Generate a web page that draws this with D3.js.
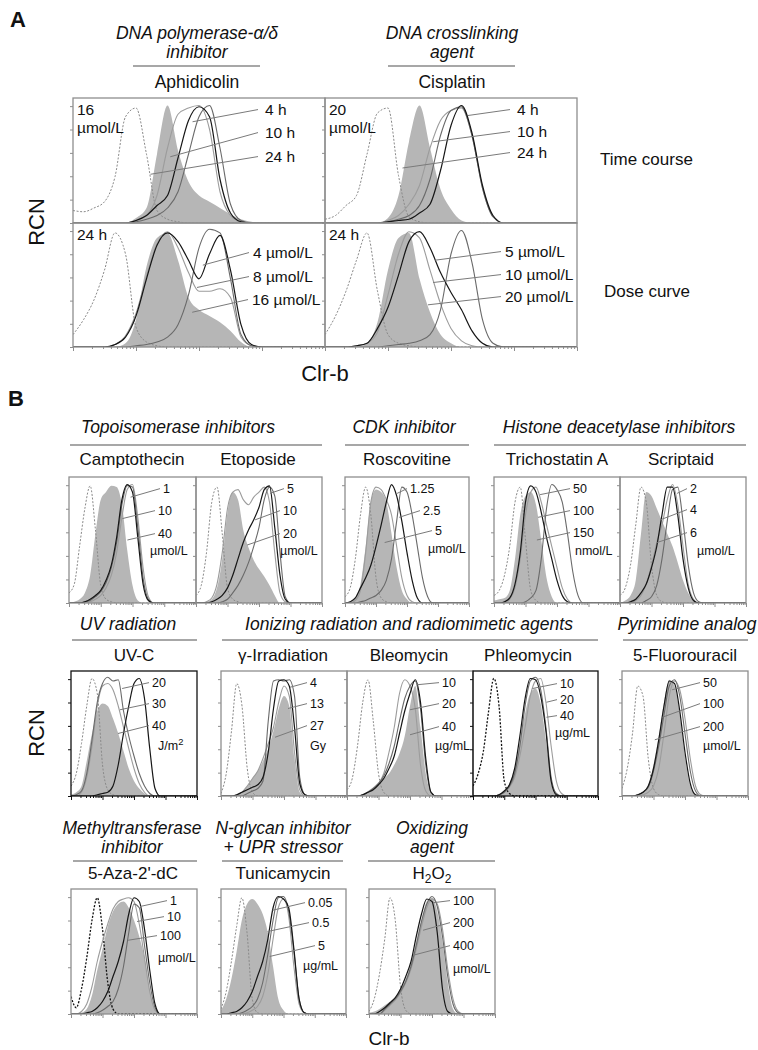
<!DOCTYPE html>
<html><head><meta charset="utf-8">
<script src="https://cdn.jsdelivr.net/npm/d3@7"></script>
<style>
body{margin:0;background:#fff}
svg{display:block;font-family:"Liberation Sans",Arial,Helvetica,sans-serif}
</style>
</head><body>
<svg id="c" width="758" height="1050"></svg>
<script>
// ---------- DATA ----------
// fluorescence bins (log-spaced, 6 per decade, 10^0 .. 10^4)
const fluorBins = [1, 1.468, 2.154, 3.162, 4.642, 6.813, 10, 14.68, 21.54, 31.62, 46.42, 68.13, 100, 146.8, 215.4, 316.2, 464.2, 681.3, 1000, 1468, 2154, 3162, 4642, 6813, 10000];

// Panel A – Aphidicolin time course (16 µmol/L)
const aphTimeIso  = [10,9,12,17,37,85,92,55,10,3,1,0,0,0,0,0,0,0,0,0,0,0,0,0,0];
const aphTimeFill = [0,0,0,0,0,0,4,12,55,94,58,33,22,17,12,7,3,1,0,0,0,0,0,0,0];
const aphTimeLines = [
  [0,0,0,0,0,0,2,6,22,60,87,92,94,75,25,6,1,0,0,0,0,0,0,0,0],
  [0,0,0,0,0,0,1,3,6,12,25,55,85,94,60,15,2,0,0,0,0,0,0,0,0],
  [0,0,0,0,0,0,2,6,14,22,52,82,93,85,35,8,1,0,0,0,0,0,0,0,0]];
const aphTimeLabels = ["4 h", "10 h", "24 h"];
const aphTimeLeaders = [[79,81],[35,53],[17,39]];

// Panel A – Cisplatin time course (20 µmol/L)
const cisTimeIso  = [3,6,14,22,55,88,92,38,5,1,0,0,0,0,0,0,0,0,0,0,0,0,0,0,0];
const cisTimeFill = [0,0,0,0,0,0,4,22,65,94,60,27,11,2,0,0,0,0,0,0,0,0,0,0,0];
const cisTimeLines = [
  [0,0,0,0,0,0,2,6,15,30,60,82,90,92,70,28,5,0,0,0,0,0,0,0,0],
  [0,0,0,0,0,0,1,3,6,14,35,70,90,93,70,28,5,0,0,0,0,0,0,0,0],
  [0,0,0,0,0,0,1,2,3,8,15,42,78,94,72,30,6,0,0,0,0,0,0,0,0]];
const cisTimeLabels = ["4 h", "10 h", "24 h"];
const cisTimeLeaders = [[186,86],[52,65],[17,44]];

// Panel A – Aphidicolin dose curve (24 h)
const aphDoseIso  = [10,22,38,62,92,75,16,4,1,0,0,0,0,0,0,0,0,0,0,0,0,0,0,0,0];
const aphDoseFill = [0,0,0,0,0,3,22,65,88,92,70,40,30,25,20,13,4,0,0,0,0,0,0,0,0];
const aphDoseLines = [
  [0,0,0,0,2,9,27,57,83,93,80,60,45,45,47,40,8,1,0,0,0,0,0,0,0],
  [0,0,0,0,0,0,1,2,4,8,18,42,80,95,92,55,10,1,0,0,0,0,0,0,0],
  [0,0,0,0,2,8,25,55,82,92,85,70,55,75,90,62,18,2,0,0,0,0,0,0,0]];
const aphDoseLabels = ["4 µmol/L", "8 µmol/L", "16 µmol/L"];
const aphDoseLeaders = [[115,66],[93,48],[78,28]];

// Panel A – Cisplatin dose curve (24 h)
const cisDoseIso  = [10,25,45,70,92,45,10,3,1,0,0,0,0,0,0,0,0,0,0,0,0,0,0,0,0];
const cisDoseFill = [0,0,0,0,3,20,62,88,92,55,28,10,3,0,0,0,0,0,0,0,0,0,0,0,0];
const cisDoseLines = [
  [0,0,0,1,3,12,42,75,93,88,62,35,15,5,1,0,0,0,0,0,0,0,0,0,0],
  [0,0,0,0,0,0,1,2,3,5,10,30,75,94,68,22,3,0,0,0,0,0,0,0,0],
  [0,0,0,1,3,15,32,58,85,93,80,60,44,30,13,3,0,0,0,0,0,0,0,0,0]];
const cisDoseLabels = ["5 µmol/L", "10 µmol/L", "20 µmol/L"];
const cisDoseLeaders = [[56,70],[52,52],[43,34]];

// Panel B – Camptothecin
const campIso  = [8,15,45,75,93,58,14,3,1,0,0,0,0,0,0,0,0,0,0,0,0,0,0,0,0];
const campFill = [0,1,3,8,22,55,82,88,93,92,78,42,14,2,0,0,0,0,0,0,0,0,0,0,0];
const campLines = [
  [0,0,0,0,1,3,6,12,22,40,68,90,94,68,28,5,0,0,0,0,0,0,0,0,0],
  [0,0,0,1,2,5,9,16,28,48,78,93,92,60,20,3,0,0,0,0,0,0,0,0,0],
  [0,0,0,1,3,6,10,18,30,52,82,94,88,52,15,2,0,0,0,0,0,0,0,0,0]];
const campLabels = ["1", "10", "40"];
const campLeaders = [[87,84],[48,67],[69,50]];

// Etoposide
const etoIso  = [6,14,40,80,92,55,12,3,1,0,0,0,0,0,0,0,0,0,0,0,0,0,0,0,0];
const etoFill = [0,0,1,3,12,35,72,88,82,58,44,34,27,21,14,6,0,0,0,0,0,0,0,0,0];
const etoLines = [
  [0,0,1,4,15,40,75,88,90,82,78,84,88,92,80,40,8,1,0,0,0,0,0,0,0],
  [0,0,0,0,0,1,3,8,14,22,32,45,60,82,92,85,40,5,0,0,0,0,0,0,0],
  [0,0,0,1,3,6,12,22,35,48,58,66,76,90,93,60,22,3,0,0,0,0,0,0,0]];
const etoLabels = ["5", "10", "20"];
const etoLeaders = [[224,87],[75,66],[42,46]];

// Roscovitine
const roscIso  = [5,12,35,70,92,70,20,4,1,0,0,0,0,0,0,0,0,0,0,0,0,0,0,0,0];
const roscFill = [0,1,4,15,45,80,90,88,80,55,28,10,3,0,0,0,0,0,0,0,0,0,0,0,0];
const roscLines = [
  [0,0,2,10,40,80,92,90,82,70,45,20,6,1,0,0,0,0,0,0,0,0,0,0,0],
  [0,0,0,1,2,4,6,10,18,35,65,92,88,70,45,20,5,0,0,0,0,0,0,0,0],
  [0,1,4,12,20,30,45,62,80,94,85,65,40,18,4,0,0,0,0,0,0,0,0,0,0]];
const roscLabels = ["1.25", "2.5", "5"];
const roscLeaders = [[48,87],[56,68],[19,48]];

// Trichostatin A
const tsaIso  = [6,10,22,45,80,92,50,10,2,0,0,0,0,0,0,0,0,0,0,0,0,0,0,0,0];
const tsaFill = [2,3,4,10,35,70,85,88,78,50,20,5,0,0,0,0,0,0,0,0,0,0,0,0,0];
const tsaLines = [
  [0,0,0,3,12,35,70,88,92,80,62,45,28,12,3,0,0,0,0,0,0,0,0,0,0],
  [0,0,0,0,0,0,1,4,10,35,75,94,90,80,55,25,6,0,0,0,0,0,0,0,0],
  [0,0,1,4,15,40,80,93,88,72,52,35,18,6,1,0,0,0,0,0,0,0,0,0,0]];
const tsaLabels = ["50", "100", "150"];
const tsaLeaders = [[29,86],[25,68],[23,50]];

// Scriptaid
const scrIso  = [6,12,30,62,92,80,30,6,1,0,0,0,0,0,0,0,0,0,0,0,0,0,0,0,0];
const scrFill = [0,2,6,18,55,88,85,75,65,55,45,32,18,8,2,0,0,0,0,0,0,0,0,0,0];
const scrLines = [
  [0,0,0,2,6,15,30,48,62,82,94,78,45,15,3,0,0,0,0,0,0,0,0,0,0],
  [0,0,0,0,0,2,5,14,35,65,90,92,65,30,8,1,0,0,0,0,0,0,0,0,0],
  [0,0,1,3,8,15,28,45,70,92,92,70,35,12,2,0,0,0,0,0,0,0,0,0,0]];
const scrLabels = ["2", "4", "6"];
const scrLeaders = [[65,87],[19,66],[15,48]];

// UV-C
const uvIso  = [8,18,42,72,94,82,25,5,1,0,0,0,0,0,0,0,0,0,0,0,0,0,0,0,0];
const uvFill = [1,3,8,28,50,68,74,72,62,50,36,22,12,6,2,0,0,0,0,0,0,0,0,0,0];
const uvLines = [
  [0,0,3,15,40,72,88,90,85,72,55,38,22,10,3,0,0,0,0,0,0,0,0,0,0],
  [0,1,4,18,45,75,90,95,92,93,68,48,32,18,8,2,0,0,0,0,0,0,0,0,0],
  [0,0,0,0,0,1,2,3,8,25,50,72,90,94,78,38,6,0,0,0,0,0,0,0,0]];
const uvLabels = ["20", "30", "40"];
const uvLeaders = [[42,86],[36,69],[31,50]];

// γ-Irradiation
const gamIso  = [2,18,52,90,72,22,3,0,0,0,0,0,0,0,0,0,0,0,0,0,0,0,0,0,0];
const gamFill = [0,0,0,1,3,8,14,20,28,38,52,70,80,72,30,3,0,0,0,0,0,0,0,0,0];
const gamLines = [
  [0,0,0,1,3,8,14,20,30,42,55,75,88,80,35,5,0,0,0,0,0,0,0,0,0],
  [0,0,0,0,0,2,4,6,12,60,92,93,92,93,80,15,1,0,0,0,0,0,0,0,0],
  [0,0,0,1,3,5,7,9,15,35,70,92,93,88,55,10,1,0,0,0,0,0,0,0,0]];
const gamLabels = ["4", "13", "27"];
const gamLeaders = [[155,87],[134,70],[52,47]];

// Bleomycin
const bleoIso  = [5,14,40,75,93,60,18,3,0,0,0,0,0,0,0,0,0,0,0,0,0,0,0,0,0];
const bleoFill = [0,0,0,1,4,7,11,14,18,25,34,48,72,88,55,18,3,0,0,0,0,0,0,0,0];
const bleoLines = [
  [0,0,0,1,3,6,10,18,35,55,82,93,88,70,25,4,0,0,0,0,0,0,0,0,0],
  [0,0,0,1,3,6,10,16,26,40,60,78,88,92,70,25,3,0,0,0,0,0,0,0,0],
  [0,0,0,1,3,5,9,14,22,32,50,68,82,93,75,30,3,0,0,0,0,0,0,0,0]];
const bleoLabels = ["10", "20", "40"];
const bleoLeaders = [[166,89],[100,69],[100,49]];

// Phleomycin
const phlIso  = [8,18,36,68,94,72,12,2,0,0,0,0,0,0,0,0,0,0,0,0,0,0,0,0,0];
const phlFill = [0,0,0,0,0,1,3,10,22,42,66,82,86,74,45,15,2,0,0,0,0,0,0,0,0];
const phlLines = [
  [0,0,0,0,0,1,3,7,15,32,55,80,92,94,75,40,12,2,0,0,0,0,0,0,0],
  [0,0,0,0,0,1,3,8,18,40,72,92,95,85,55,15,2,0,0,0,0,0,0,0,0],
  [0,0,0,0,0,1,4,9,22,48,78,94,93,80,52,12,1,0,0,0,0,0,0,0,0]];
const phlLabels = ["10", "20", "40"];
const phlLeaders = [[80,86],[224,75],[224,63]];

// 5-Fluorouracil
const fuIso  = [6,22,50,88,80,30,6,1,0,0,0,0,0,0,0,0,0,0,0,0,0,0,0,0,0];
const fuFill = [0,0,0,1,3,8,25,48,75,93,88,65,32,8,1,0,0,0,0,0,0,0,0,0,0];
const fuLines = [
  [0,0,0,0,1,3,8,22,50,80,92,85,62,30,8,1,0,0,0,0,0,0,0,0,0],
  [0,0,0,1,3,7,20,40,65,88,93,80,50,20,4,0,0,0,0,0,0,0,0,0,0],
  [0,0,0,1,3,8,22,45,72,92,90,68,35,10,1,0,0,0,0,0,0,0,0,0,0]];
const fuLabels = ["50", "100", "200"];
const fuLeaders = [[39,85],[19,63],[11,45]];

// 5-Aza-2'-dC
const azaIso  = [14,5,20,45,75,93,68,25,4,0,0,0,0,0,0,0,0,0,0,0,0,0,0,0,0];
const azaFill = [0,0,1,4,15,35,52,70,82,88,90,85,75,62,45,20,3,0,0,0,0,0,0,0,0];
const azaLines = [
  [0,0,2,8,22,42,58,72,84,90,92,93,90,72,45,18,3,0,0,0,0,0,0,0,0],
  [0,0,0,0,0,1,3,6,10,20,38,65,88,85,55,25,5,0,0,0,0,0,0,0,0],
  [0,0,0,1,2,5,10,18,30,42,58,80,93,90,68,35,8,0,0,0,0,0,0,0,0]];
const azaLabels = ["1", "10", "100"];
const azaLeaders = [[155,86],[125,74],[65,59]];

// Tunicamycin
const tunIso  = [4,18,42,70,93,65,12,1,0,0,0,0,0,0,0,0,0,0,0,0,0,0,0,0,0];
const tunFill = [3,12,28,50,75,88,92,88,80,65,38,12,3,0,0,0,0,0,0,0,0,0,0,0,0];
const tunLines = [
  [0,0,0,0,0,1,3,6,14,32,60,85,92,78,38,8,1,0,0,0,0,0,0,0,0],
  [0,0,0,0,1,3,6,12,25,48,75,93,94,82,50,12,1,0,0,0,0,0,0,0,0],
  [0,0,1,2,5,10,18,30,42,60,85,94,92,85,52,12,1,0,0,0,0,0,0,0,0]];
const tunLabels = ["0.05", "0.5", "5"];
const tunLeaders = [[45,83],[31,66],[36,46]];

// H2O2
const h2Iso  = [2,12,32,60,93,75,22,3,0,0,0,0,0,0,0,0,0,0,0,0,0,0,0,0,0];
const h2Fill = [1,2,4,7,10,14,20,28,40,58,75,90,93,82,58,25,4,0,0,0,0,0,0,0,0];
const h2Lines = [
  [0,0,0,3,7,11,17,25,36,52,70,85,92,88,68,36,12,2,0,0,0,0,0,0,0],
  [0,0,0,4,8,12,18,26,38,55,74,88,94,86,62,30,8,1,0,0,0,0,0,0,0],
  [0,0,2,5,9,13,20,30,42,62,80,92,90,65,20,2,0,0,0,0,0,0,0,0,0]];
const h2Labels = ["100", "200", "400"];
const h2Leaders = [[107,89],[52,67],[25,47]];

// axis ticks
const decadeTicks = [1, 10, 100, 1000, 10000];
const minorTicks = [2,3,4,5,6,7,8,9,20,30,40,50,60,70,80,90,200,300,400,500,600,700,800,900,2000,3000,4000,5000,6000,7000,8000,9000];
const countTicks = [0, 18.7, 37.4, 56.1, 74.8, 93.5];

// ---------- STYLE ----------
const BLACK = "#161616", GRAY = "#6a6a6a", LIGHT = "#9c9c9c", FILL = "#b6b6b6";
const ISO = "#8a8a8a", FRAME = "#8e8e8e", HEAD = "#8a8a8a";
const lineCols = [LIGHT, GRAY, BLACK];

const svg = d3.select("#c");
let clipN = 0;

function drawPanel(p) {
  const g = svg.append("g");
  const x = d3.scaleLog().domain([1, 10000]).range([p.x, p.x + p.w]);
  const y = d3.scaleLinear().domain([0, 100]).range([p.y + p.h, p.y]);
  const cid = "clip" + (clipN++);
  g.append("clipPath").attr("id", cid).append("rect")
    .attr("x", p.x).attr("y", p.y - 1).attr("width", p.w).attr("height", p.h + 1);
  const body = g.append("g").attr("clip-path", `url(#${cid})`);
  const area = d3.area().x((d, i) => x(fluorBins[i])).y0(y(0)).y1(d => y(d)).curve(d3.curveMonotoneX);
  const line = d3.line().x((d, i) => x(fluorBins[i])).y(d => y(d)).curve(d3.curveMonotoneX);
  body.append("path").datum(p.fill).attr("d", area).attr("fill", FILL).attr("stroke", "none");
  body.append("path").datum(p.iso).attr("d", line).attr("fill", "none")
    .attr("stroke", p.isoColor || ISO).attr("stroke-width", p.isoColor ? 1.3 : 1)
    .attr("stroke-dasharray", "2,1.6");
  p.lines.forEach((arr, k) => {
    body.append("path").datum(arr).attr("d", line).attr("fill", "none")
      .attr("stroke", lineCols[k]).attr("stroke-width", k === 2 ? 1.2 : 1.1);
  });
  // frame
  g.append("rect").attr("x", p.x).attr("y", p.y).attr("width", p.w).attr("height", p.h)
    .attr("fill", "none").attr("stroke", p.frame || FRAME).attr("stroke-width", 1.3);
  const fc = p.frame || FRAME;
  // y ticks
  const ya = g.append("g").attr("transform", `translate(${p.x},0)`)
    .call(d3.axisLeft(y).tickValues(countTicks).tickSize(3).tickFormat(""));
  ya.select(".domain").remove();
  ya.selectAll("line").attr("stroke", fc);
  if (p.xAxis) {
    const xa = g.append("g").attr("transform", `translate(0,${p.y + p.h})`)
      .call(d3.axisBottom(x).tickValues(decadeTicks).tickSize(4).tickFormat(""));
    xa.select(".domain").remove();
    xa.selectAll("line").attr("stroke", fc);
    const xm = g.append("g").attr("transform", `translate(0,${p.y + p.h})`)
      .call(d3.axisBottom(x).tickValues(minorTicks).tickSize(2).tickFormat(""));
    xm.select(".domain").remove();
    xm.selectAll("line").attr("stroke", fc);
  }
  // labels + leaders
  const fs = p.fs;
  p.labels.forEach((t, k) => {
    const lx = p.x + p.lab[k][0], ly = p.y + p.lab[k][1];
    const d = p.leaders[k];
    g.append("line").attr("x1", lx - p.gap).attr("y1", ly - fs * 0.35)
      .attr("x2", x(d[0])).attr("y2", y(d[1]))
      .attr("stroke", "#7a7a7a").attr("stroke-width", 1);
    g.append("text").attr("x", lx).attr("y", ly).attr("font-size", fs).attr("fill", "#111").text(t);
  });
  if (p.unit) {
    const ut = g.append("text").attr("x", p.x + p.unitPos[0]).attr("y", p.y + p.unitPos[1])
      .attr("font-size", fs).attr("fill", "#111");
    if (p.unit === "J/m2") {
      ut.append("tspan").text("J/m");
      ut.append("tspan").attr("dy", -5).attr("font-size", fs * 0.75).text("2");
    } else ut.text(p.unit);
  }
  if (p.corner) {
    p.corner.forEach((t, k) => {
      g.append("text").attr("x", p.x + 4).attr("y", p.y + 17 + k * 18)
        .attr("font-size", 15.5).attr("fill", "#111").text(t);
    });
  }
}

const panels = [
  {x:73,y:98,w:252,h:125, iso:aphTimeIso, fill:aphTimeFill, lines:aphTimeLines, labels:aphTimeLabels, leaders:aphTimeLeaders,
   lab:[[192,17],[192,40],[192,64]], fs:15.5, gap:7, corner:["16","µmol/L"]},
  {x:325,y:98,w:252,h:125, iso:cisTimeIso, fill:cisTimeFill, lines:cisTimeLines, labels:cisTimeLabels, leaders:cisTimeLeaders,
   lab:[[192,17],[192,39],[192,60]], fs:15.5, gap:7, corner:["20","µmol/L"]},
  {x:73,y:223,w:252,h:124, iso:aphDoseIso, fill:aphDoseFill, lines:aphDoseLines, labels:aphDoseLabels, leaders:aphDoseLeaders,
   lab:[[180,35],[180,59],[179,82]], fs:15.5, gap:4, corner:["24 h"], xAxis:true},
  {x:325,y:223,w:252,h:124, iso:cisDoseIso, fill:cisDoseFill, lines:cisDoseLines, labels:cisDoseLabels, leaders:cisDoseLeaders,
   lab:[[180,34],[180,57],[180,79]], fs:15.5, gap:4, corner:["24 h"], xAxis:true},

  {x:69,y:477,w:127,h:126, iso:campIso, fill:campFill, lines:campLines, labels:campLabels, leaders:campLeaders,
   lab:[[94,16],[89,38],[89,61]], fs:12.5, gap:3, unit:"µmol/L", unitPos:[81,78], xAxis:true},
  {x:196,y:477,w:126,h:126, iso:etoIso, fill:etoFill, lines:etoLines, labels:etoLabels, leaders:etoLeaders,
   lab:[[91,16],[87,38],[87,61]], fs:12.5, gap:3, unit:"µmol/L", unitPos:[84,78], xAxis:true},
  {x:345,y:477,w:124,h:126, iso:roscIso, fill:roscFill, lines:roscLines, labels:roscLabels, leaders:roscLeaders,
   lab:[[65,16],[78,38],[90,58]], fs:12.5, gap:3, unit:"µmol/L", unitPos:[83,76], xAxis:true},
  {x:494,y:477,w:126,h:126, iso:tsaIso, fill:tsaFill, lines:tsaLines, labels:tsaLabels, leaders:tsaLeaders,
   lab:[[79,16],[79,38],[79,60]], fs:12.5, gap:3, unit:"nmol/L", unitPos:[81,78], xAxis:true},
  {x:620,y:477,w:126,h:126, iso:scrIso, fill:scrFill, lines:scrLines, labels:scrLabels, leaders:scrLeaders,
   lab:[[70,16],[70,37],[70,60]], fs:12.5, gap:3, unit:"µmol/L", unitPos:[77,78], xAxis:true},

  {x:71,y:671,w:126,h:125, iso:uvIso, fill:uvFill, lines:uvLines, labels:uvLabels, leaders:uvLeaders,
   lab:[[81,16],[81,37],[81,59]], fs:12.5, gap:3, unit:"J/m2", unitPos:[87,79], xAxis:true, frame:"#111"},
  {x:221,y:671,w:126,h:125, iso:gamIso, fill:gamFill, lines:gamLines, labels:gamLabels, leaders:gamLeaders,
   lab:[[89,16],[89,37],[89,59]], fs:12.5, gap:3, unit:"Gy", unitPos:[89,79], xAxis:true},
  {x:347,y:671,w:126,h:125, iso:bleoIso, fill:bleoFill, lines:bleoLines, labels:bleoLabels, leaders:bleoLeaders,
   lab:[[95,16],[95,37],[95,60]], fs:12.5, gap:3, unit:"µg/mL", unitPos:[88,79], xAxis:true},
  {x:473,y:671,w:125,h:125, iso:phlIso, fill:phlFill, lines:phlLines, labels:phlLabels, leaders:phlLeaders,
   lab:[[87,17],[87,33],[87,49]], fs:12.5, gap:3, unit:"µg/mL", unitPos:[82,66], xAxis:true, frame:"#111", isoColor:"#111"},
  {x:622,y:671,w:126,h:125, iso:fuIso, fill:fuFill, lines:fuLines, labels:fuLabels, leaders:fuLeaders,
   lab:[[81,16],[81,37],[81,60]], fs:12.5, gap:3, unit:"µmol/L", unitPos:[81,79], xAxis:true},

  {x:71,y:889,w:126,h:125, iso:azaIso, fill:azaFill, lines:azaLines, labels:azaLabels, leaders:azaLeaders,
   lab:[[99,16],[96,32],[89,51]], fs:12.5, gap:3, unit:"µmol/L", unitPos:[87,73], xAxis:true, isoColor:"#111"},
  {x:221,y:889,w:125,h:125, iso:tunIso, fill:tunFill, lines:tunLines, labels:tunLabels, leaders:tunLeaders,
   lab:[[87,18],[91,38],[97,61]], fs:12.5, gap:3, unit:"µg/mL", unitPos:[82,81], xAxis:true},
  {x:369,y:889,w:126,h:125, iso:h2Iso, fill:h2Fill, lines:h2Lines, labels:h2Labels, leaders:h2Leaders,
   lab:[[84,16],[84,38],[84,61]], fs:12.5, gap:3, unit:"µmol/L", unitPos:[84,84], xAxis:true}
];
panels.forEach(drawPanel);

// ---------- TEXT / HEADERS ----------
function txt(x, y, s, size, opts = {}) {
  const t = svg.append("text").attr("x", x).attr("y", y).attr("font-size", size)
    .attr("text-anchor", opts.anchor || "middle").attr("fill", "#111");
  if (opts.italic) t.attr("font-style", "italic");
  if (opts.bold) t.attr("font-weight", "bold");
  if (opts.rotate) t.attr("transform", `rotate(-90,${x},${y})`);
  t.text(s);
  return t;
}
function hline(x1, x2, y) {
  svg.append("line").attr("x1", x1).attr("x2", x2).attr("y1", y).attr("y2", y)
    .attr("stroke", HEAD).attr("stroke-width", 1.5);
}

// Panel A
txt(10, 27, "A", 22, {anchor: "start", bold: true});
txt(197, 39, "DNA polymerase-α/δ", 17.5, {italic: true});
txt(197, 58, "inhibitor", 17.5, {italic: true});
hline(133, 260, 66);
txt(197, 88, "Aphidicolin", 17.5);
txt(452, 39, "DNA crosslinking", 17.5, {italic: true});
txt(452, 58, "agent", 17.5, {italic: true});
hline(388, 515, 66);
txt(452, 88, "Cisplatin", 17.5);
txt(600, 165, "Time course", 17, {anchor: "start"});
txt(604, 297, "Dose curve", 17, {anchor: "start"});
txt(44, 222, "RCN", 22, {rotate: true});
txt(325, 381, "Clr-b", 22);

// Panel B
txt(8, 406, "B", 22, {anchor: "start", bold: true});
txt(178, 433, "Topoisomerase inhibitors", 17.5, {italic: true});
hline(70, 322, 445);
txt(132, 465, "Camptothecin", 17);
txt(258, 465, "Etoposide", 17);
txt(404, 433, "CDK inhibitor", 17.5, {italic: true});
hline(345, 469, 445);
txt(407, 465, "Roscovitine", 17);
txt(619, 433, "Histone deacetylase inhibitors", 17.5, {italic: true});
hline(494, 746, 445);
txt(557, 465, "Trichostatin A", 17);
txt(681, 465, "Scriptaid", 17);

txt(128, 630, "UV radiation", 17.5, {italic: true});
hline(72, 197, 640);
txt(134, 661, "UV-C", 17);
txt(409, 630, "Ionizing radiation and radiomimetic agents", 17.5, {italic: true});
hline(222, 598, 640);
txt(283, 661, "γ-Irradiation", 17);
txt(409, 661, "Bleomycin", 17);
txt(528, 661, "Phleomycin", 17);
txt(687, 630, "Pyrimidine analog", 17.5, {italic: true});
hline(623, 748, 640);
txt(685, 661, "5-Fluorouracil", 17);

txt(132, 834, "Methyltransferase", 17.5, {italic: true});
txt(132, 853, "inhibitor", 17.5, {italic: true});
hline(73, 197, 861);
txt(133, 879, "5-Aza-2'-dC", 17);
txt(283, 834, "N-glycan inhibitor", 17.5, {italic: true});
txt(283, 853, "+ UPR stressor", 17.5, {italic: true});
hline(222, 343, 861);
txt(283, 879, "Tunicamycin", 17);
txt(432, 834, "Oxidizing", 17.5, {italic: true});
txt(432, 853, "agent", 17.5, {italic: true});
hline(368, 495, 861);
const h2t = svg.append("text").attr("x", 432).attr("y", 879).attr("font-size", 17)
  .attr("text-anchor", "middle").attr("fill", "#111");
h2t.append("tspan").text("H");
h2t.append("tspan").attr("dy", 4).attr("font-size", 12).text("2");
h2t.append("tspan").attr("dy", -4).text("O");
h2t.append("tspan").attr("dy", 4).attr("font-size", 12).text("2");

txt(44, 733, "RCN", 22, {rotate: true});
txt(389, 1045, "Clr-b", 19);
</script>
</body></html>
